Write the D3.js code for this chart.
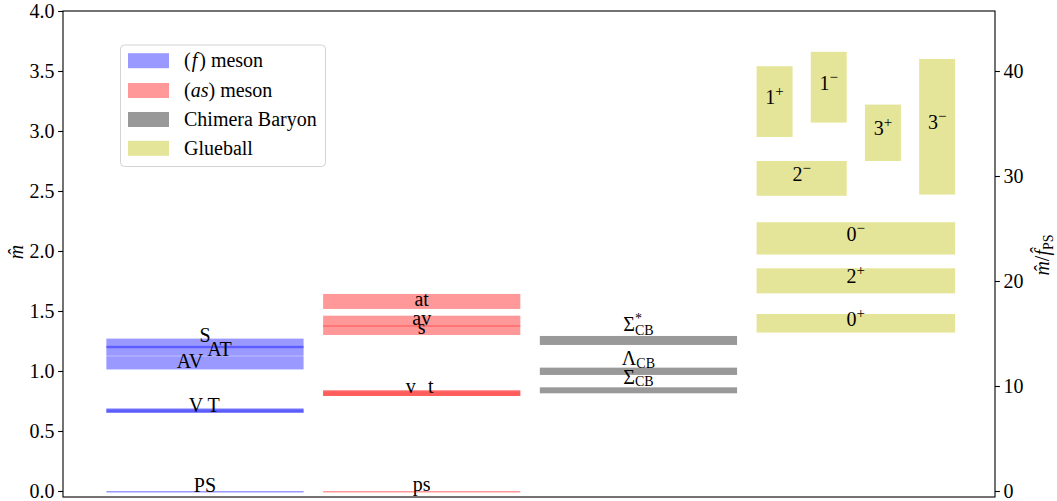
<!DOCTYPE html>
<html><head><meta charset="utf-8">
<script src="https://cdn.jsdelivr.net/npm/d3@7"></script>
<style>
body{margin:0;background:#fff}
text{font-family:"Liberation Serif","DejaVu Serif",serif;fill:#000}
</style>
</head><body>
<svg id="chart" width="1057" height="501"></svg>
<script>
// ---------------- data ----------------
// (f) meson: mass band low/high
const fNames = ["PS","V","T","AV","AT","S"];
const fLow   = [-0.0125, 0.6525, 0.6525, 1.013, 1.1265, 1.19];
const fHigh  = [ 0.000, 0.689, 0.681, 1.1235, 1.270, 1.21];
const fLabelY  = [-0.005, 0.661, 0.661, 1.023, 1.128, 1.244];
const fLabelDx = [0, -0.042, 0.040, -0.069, 0.067, 0];

// (as) meson
const asNames = ["ps","v","t","s","av","at"];
const asLow   = [-0.0125, 0.792, 0.792, 1.300, 1.370, 1.517];
const asHigh  = [ 0.000, 0.842, 0.832, 1.380, 1.461, 1.642];
const asLabelY  = [0.0, 0.814, 0.814, 1.306, 1.383, 1.542];
const asLabelDx = [0, -0.05, 0.042, 0, 0, 0];

// Chimera baryons
const cbNames = ["Σ","Λ","Σ*"];
const cbLow   = [0.814, 0.967, 1.217];
const cbHigh  = [0.864, 1.028, 1.292];
const cbLabelY = [0.892, 1.050, 1.336];

// Glueballs: low/high, slot range (0..3)
const gbNames = ["0+","2+","0-","2-","1+","1-","3+","3-"];
const gbLow   = [1.320, 1.647, 1.970, 2.460, 2.950, 3.070, 2.750, 2.470];
const gbHigh  = [1.475, 1.856, 2.240, 2.750, 3.540, 3.660, 3.220, 3.600];
const gbSlotFrom = [0,0,0,0,0,1,2,3];
const gbSlotTo   = [3,3,3,1,0,1,2,3];

const leftTicks  = [0.0,0.5,1.0,1.5,2.0,2.5,3.0,3.5,4.0];
const rightTicks = [0,10,20,30,40];
const fPS = 0.0875;   // ratio between the two axes

const legendNames = ["(f) meson","(as) meson","Chimera Baryon","Glueball"];

// ---------------- layout ----------------
const svg = d3.select("#chart");
const L=63, R=995, T=11, B=497;
const x = d3.scaleLinear().domain([0,4.3]).range([L,R]);
const y = d3.scaleLinear().domain([-0.05,4.0]).range([B,T]);
const yR = d3.scaleLinear().domain([-0.05/fPS,4.0/fPS]).range([B,T]);

const colStart = [0.2,1.2,2.2,3.2];
const colW = 0.91;
const slotStep = 0.25, slotW = 0.166;

const cBlue = "rgba(0,0,255,0.4)";
const cRed  = "rgba(255,0,0,0.4)";
const cGray = "rgba(0,0,0,0.4)";
const cGb   = "rgba(191,191,0,0.4)";
const FS = 20;

function bands(g, lows, highs, col, color){
  g.selectAll(null).data(lows).enter().append("rect")
    .attr("x", x(colStart[col]))
    .attr("width", x(colStart[col]+colW)-x(colStart[col]))
    .attr("y", (d,i)=>y(highs[i]))
    .attr("height", (d,i)=>y(lows[i])-y(highs[i]))
    .attr("fill", color);
}
const gBars = svg.append("g");
bands(gBars, fLow, fHigh, 0, cBlue);
bands(gBars, asLow, asHigh, 1, cRed);
bands(gBars, cbLow, cbHigh, 2, cGray);

// glueballs
gBars.selectAll(null).data(gbNames).enter().append("rect")
  .attr("x",(d,i)=>x(colStart[3]+gbSlotFrom[i]*slotStep))
  .attr("width",(d,i)=>x(colStart[3]+gbSlotTo[i]*slotStep+slotW)-x(colStart[3]+gbSlotFrom[i]*slotStep))
  .attr("y",(d,i)=>y(gbHigh[i]))
  .attr("height",(d,i)=>y(gbLow[i])-y(gbHigh[i]))
  .attr("fill",cGb);

// labels
const gLab = svg.append("g").attr("font-size",FS).attr("text-anchor","middle");
function labels(names, ly, ldx, col){
  gLab.selectAll(null).data(names).enter().append("text")
    .attr("x",(d,i)=>x(colStart[col]+colW/2+ldx[i]))
    .attr("y",(d,i)=>y(ly[i]))
    .text(d=>d);
}
labels(fNames, fLabelY, fLabelDx, 0);
labels(asNames, asLabelY, asLabelDx, 1);

// chimera labels with sub/superscripts
cbNames.forEach((n,i)=>{
  const t = gLab.append("text")
    .attr("x", x(colStart[2]+colW/2)).attr("y", y(cbLabelY[i]));
  const base = n[0], star = n.length>1;
  t.append("tspan").text(base);
  if(star){
    t.append("tspan").attr("font-size",14).attr("dy",-8).text("*");
    t.append("tspan").attr("font-size",14).attr("dx",-7).attr("dy",12.5).text("CB");
  } else {
    t.append("tspan").attr("font-size",14).attr("dy",2.5).text("CB");
  }
});

// glueball labels
gbNames.forEach((n,i)=>{
  const cx = (x(colStart[3]+gbSlotFrom[i]*slotStep) + x(colStart[3]+gbSlotTo[i]*slotStep+slotW))/2;
  const cy = (y(gbLow[i])+y(gbHigh[i]))/2 + 2.5;
  const t = gLab.append("text").attr("x",cx).attr("y",cy);
  t.append("tspan").text(n[0]);
  t.append("tspan").attr("font-size",15).attr("dy",-8).text(n[1]==="+"?"+":"\u2212");
});

// ---------------- axes ----------------
const axL = svg.append("g").attr("transform",`translate(${L},0)`)
  .call(d3.axisLeft(y).tickValues(leftTicks).tickFormat(d3.format(".1f")).tickSize(4.9).tickPadding(3.5));
const axR = svg.append("g").attr("transform",`translate(${R},0)`)
  .call(d3.axisRight(yR).tickValues(rightTicks).tickFormat(d3.format("d")).tickSize(4.9).tickPadding(3.5));
[axL,axR].forEach(a=>{
  a.select(".domain").remove();
  a.selectAll("text").attr("font-family","Liberation Serif").attr("font-size",FS).attr("fill","#000");
  a.selectAll("line").attr("stroke","#000").attr("stroke-width",1.1);
});
svg.append("rect").attr("x",L).attr("y",T).attr("width",R-L).attr("height",B-T)
  .attr("fill","none").attr("stroke","#000").attr("stroke-width",1.1);

// axis labels
svg.append("text").attr("transform","translate(23,252) rotate(-90)")
  .attr("text-anchor","middle").attr("font-size",FS).attr("font-style","italic").text("m\u0302");
const rl = svg.append("text").attr("transform","translate(1049,255) rotate(-90)")
  .attr("text-anchor","middle").attr("font-size",FS);
rl.append("tspan").attr("font-style","italic").text("m\u0302");
rl.append("tspan").text("/");
rl.append("tspan").attr("font-style","italic").text("f\u0302");
rl.append("tspan").attr("font-size",14).attr("dy",4).text("PS");

// ---------------- legend ----------------
const lg = svg.append("g");
lg.append("rect").attr("x",120.5).attr("y",45).attr("width",205).attr("height",121.5)
  .attr("rx",4).attr("fill","rgba(255,255,255,0.8)").attr("stroke","#d3d3d3").attr("stroke-width",1);
const legColors = [cBlue,cRed,cGray,cGb];
const rowY = [60.7,90.5,119.5,148.3];
legendNames.forEach((n,i)=>{
  lg.append("rect").attr("x",128).attr("y",rowY[i]-7.5).attr("width",41).attr("height",15).attr("fill",legColors[i]);
  const t = lg.append("text").attr("x",184).attr("y",rowY[i]+6.5).attr("font-size",FS);
  if(i===0){
    t.append("tspan").text("(");
    t.append("tspan").attr("font-style","italic").attr("dx",1).text("f");
    t.append("tspan").attr("dx",2).text(") meson");
  } else if(i===1){
    t.append("tspan").text("(");
    t.append("tspan").attr("font-style","italic").text("as");
    t.append("tspan").text(") meson");
  } else t.text(n);
});
</script>
</body></html>
